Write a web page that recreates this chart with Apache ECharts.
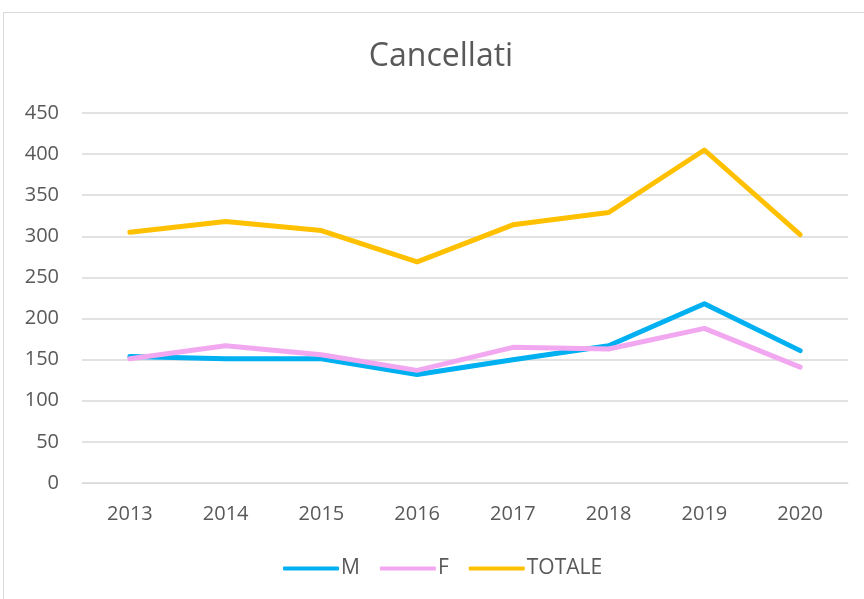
<!DOCTYPE html>
<html><head><meta charset="utf-8">
<script src="https://cdn.jsdelivr.net/npm/echarts@6/dist/echarts.min.js"></script>
<style>html,body{margin:0;padding:0;background:#fff;}
#frame{position:absolute;left:3px;top:12px;width:870px;height:600px;border:1px solid #d9d9d9;box-sizing:border-box;}
#c{position:absolute;left:0;top:0;width:864px;height:599px;}</style>
</head><body><div id="frame"></div><div id="c"></div>
<script>
const categories = ['2013','2014','2015','2016','2017','2018','2019','2020'];
const seriesM = [154, 151, 151, 132, 150, 167, 218, 161];
const seriesF = [151, 167, 156, 137, 165, 163, 188, 141];
const seriesTot = [305, 318, 307, 269, 314, 329, 405, 302];
const font = '"Open Sans", "Liberation Sans", sans-serif';
const chart = echarts.init(document.getElementById('c'));
chart.setOption({
  animation:false,
  title:{text:'Cancellati',left:436,top:36,textAlign:'center',textStyle:{fontFamily:font,fontSize:32,fontWeight:'normal',color:'#595959'}},
  legend:{top:553,left:278,itemWidth:56,itemHeight:4,itemGap:20,icon:'roundRect',
    textStyle:{fontFamily:font,fontSize:21,color:'#595959',padding:[0,0,0,-3]},
    data:['M','F','TOTALE']},
  grid:{left:82,right:16,top:113,bottom:116},
  xAxis:{type:'category',data:categories,boundaryGap:true,
    axisLine:{lineStyle:{color:'#d9d9d9',width:1}},axisTick:{show:false},
    axisLabel:{fontFamily:font,fontSize:20,color:'#595959',margin:21}},
  yAxis:{type:'value',min:0,max:450,interval:50,
    axisLine:{show:false},axisTick:{show:false},
    splitLine:{lineStyle:{color:'#d9d9d9',width:1.5}},
    axisLabel:{fontFamily:font,fontSize:20,color:'#595959',margin:23}},
  series:[
    {name:'M',type:'line',data:seriesM,symbol:'none',lineStyle:{width:5,color:'#00B0F0',cap:'round',join:'round'},itemStyle:{color:'#00B0F0'}},
    {name:'F',type:'line',data:seriesF,symbol:'none',lineStyle:{width:5,color:'#F2A8F0',cap:'round',join:'round'},itemStyle:{color:'#F2A8F0'}},
    {name:'TOTALE',type:'line',data:seriesTot,symbol:'none',lineStyle:{width:5,color:'#FFC000',cap:'round',join:'round'},itemStyle:{color:'#FFC000'}}
  ]
});
</script></body></html>
